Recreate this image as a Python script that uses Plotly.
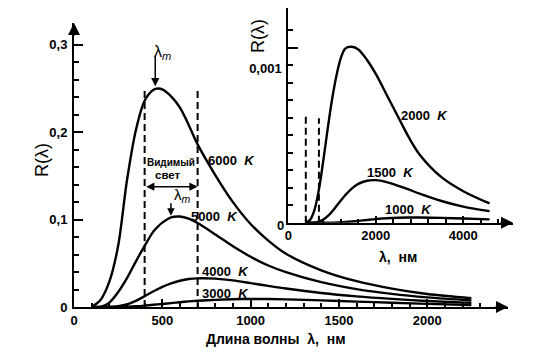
import plotly.graph_objects as go

# ---------------- data ----------------
LAMBDA_MAIN = [100, 150, 200, 250, 300, 350, 400, 450, 475, 500, 550, 600, 650, 700,
               800, 900, 1000, 1100, 1200, 1400, 1600, 1800, 2000, 2250]
R_6000 = [0.0, 0.008, 0.029, 0.070, 0.145, 0.202, 0.236, 0.2485, 0.2500, 0.2490, 0.241, 0.228, 0.208, 0.186,
          0.151, 0.120, 0.095, 0.076, 0.061, 0.042, 0.0295, 0.021, 0.0148, 0.0100]
R_5000 = [0.0, 0.0, 0.005, 0.017, 0.033, 0.052, 0.070, 0.0865, 0.092, 0.0965, 0.1025, 0.1035, 0.1010, 0.0960,
          0.083, 0.0695, 0.0575, 0.0475, 0.040, 0.0285, 0.0205, 0.015, 0.011, 0.0075]
R_4000 = [0.0, 0.0, 0.0, 0.001, 0.003, 0.007, 0.0123, 0.018, 0.0205, 0.023, 0.027, 0.030, 0.032, 0.0328,
          0.0325, 0.0305, 0.0273, 0.0241, 0.0211, 0.0160, 0.0122, 0.0093, 0.0069, 0.0047]
R_3000 = [0.0, 0.0, 0.0, 0.0, 0.0003, 0.0008, 0.0016, 0.0026, 0.0030, 0.0035, 0.0045, 0.0055, 0.0064, 0.0071,
          0.0082, 0.0089, 0.0092, 0.0091, 0.0087, 0.0076, 0.0062, 0.0049, 0.0036, 0.0023]
MAIN_SERIES = [("6000", R_6000), ("5000", R_5000), ("4000", R_4000), ("3000", R_3000)]

LAMBDA_INSET = [400, 500, 600, 700, 800, 900, 1000, 1100, 1200, 1300, 1450, 1600, 1800, 2000,
                2250, 2500, 2750, 3000, 3500, 4000, 4600]
R_2000 = [0.0, 0.000017, 0.000075, 0.00019, 0.000355, 0.000536, 0.000704, 0.00084, 0.00094, 0.000995,
          0.001005, 0.00099, 0.00093, 0.00085, 0.00073, 0.00061, 0.00049, 0.00039, 0.00026, 0.00018, 0.00011]
R_1500 = [0.0, 0.0, 0.0, 0.000006, 0.000018, 0.000037, 0.000064, 0.000095, 0.000127, 0.000157,
          0.000195, 0.000222, 0.00024, 0.000243, 0.000232, 0.000212, 0.00019, 0.000166, 0.000124, 0.000092, 0.000066]
R_1000 = [0.0, 0.0, 0.0, 0.0, 0.0, 0.0, 0.0, 0.000001, 0.000002, 0.0000036,
          0.0000066, 0.0000102, 0.0000154, 0.0000203, 0.000025, 0.000028, 0.0000294, 0.0000296, 0.0000274,
          0.0000237, 0.0000192]
INSET_SERIES = [("2000", R_2000), ("1500", R_1500), ("1000", R_1000)]

VISIBLE_NM = [400, 700]
MAIN_DASH_TOP = [0.2514, 0.2514]
INSET_DASH_TOP = [0.000615, 0.000597]
PEAK_6000 = (460, 0.2525)
PEAK_5000 = (549, 0.1045)

MAIN_X_TICKS = [0, 500, 1000, 1500, 2000]
MAIN_X_MINOR = [v for v in range(100, 2400, 100)]
MAIN_Y_TICKS = [0, 0.1, 0.2, 0.3]
MAIN_Y_TEXT = ["0", "0,1", "0,2", "0,3"]
MAIN_Y_MINOR = [0.02 * k for k in range(1, 15)]
INSET_X_TICKS = [0, 2000, 4000]
INSET_X_MINOR = [400 * k for k in range(1, 13)]
INSET_Y_TICKS = [0.001]
INSET_Y_TEXT = ["0,001"]
INSET_Y_MINOR = [0.0001 * k for k in range(1, 12)]

# ---------------- layout geometry ----------------
# the page body keeps an 8px margin, so the figure is drawn 8px smaller and
# all target pixel positions are measured in window pixels
OFF = 8
FW, FH = 547 - OFF, 357 - OFF


def PX(px):
    return (px - OFF) / FW


def PY(py):
    return 1 - (py - OFF) / FH


MAIN_X_MAX = 2457.5
MAIN_Y_MAX = 0.3249
INSET_X_MAX = 5136
INSET_Y_MAX = 0.001225

FONT = "Liberation Sans, Arial, DejaVu Sans"
curve = dict(color="black", width=2.4, shape="spline", smoothing=0.9)
dash = dict(color="black", width=2, dash="7px,4px")

fig = go.Figure()
for name, r in MAIN_SERIES:
    fig.add_trace(go.Scatter(x=LAMBDA_MAIN, y=r, mode="lines", line=curve, name=name + " K",
                             xaxis="x", yaxis="y", hoverinfo="skip"))
for b, top in zip(VISIBLE_NM, MAIN_DASH_TOP):
    fig.add_trace(go.Scatter(x=[b, b], y=[0, top], mode="lines", line=dash, xaxis="x", yaxis="y",
                             hoverinfo="skip"))
for name, r in INSET_SERIES:
    fig.add_trace(go.Scatter(x=LAMBDA_INSET, y=r, mode="lines", line=curve, name=name + " K",
                             xaxis="x2", yaxis="y2", hoverinfo="skip"))
for b, top in zip(VISIBLE_NM, INSET_DASH_TOP):
    fig.add_trace(go.Scatter(x=[b, b], y=[0, top], mode="lines", line=dash, xaxis="x2", yaxis="y2",
                             hoverinfo="skip"))

TICKFONT = dict(family=FONT, size=13, color="black", weight="bold")


def axis(domain, rng, anchor, tickvals, ticktext, minor_vals, ticklen, minor_len, **kw):
    d = dict(domain=domain, range=rng, anchor=anchor, showline=True, linecolor="black", linewidth=2,
             showgrid=False, zeroline=False, ticks="inside", tickvals=tickvals, ticktext=ticktext,
             ticklen=ticklen, tickwidth=1.5, tickcolor="black", fixedrange=True, automargin=False,
             tickfont=TICKFONT,
             minor=dict(tickvals=minor_vals, ticks="inside", ticklen=minor_len, tickwidth=1.5,
                        tickcolor="black", showgrid=False))
    d.update(kw)
    return d


fig.update_layout(
    width=FW, height=FH, margin=dict(l=0, r=0, t=0, b=0),
    paper_bgcolor="white", plot_bgcolor="rgba(0,0,0,0)", showlegend=False,
    font=dict(family=FONT, size=13, color="black"),
    xaxis=axis([PX(74), PX(508)], [0, MAIN_X_MAX], "y", MAIN_X_TICKS, [str(v) for v in MAIN_X_TICKS],
               MAIN_X_MINOR, 8, 4),
    yaxis=axis([PY(307), PY(23)], [0, MAIN_Y_MAX], "x", MAIN_Y_TICKS, MAIN_Y_TEXT, MAIN_Y_MINOR, 9, 5,
               ticklabelstandoff=2),
    xaxis2=axis([PX(288.3), PX(513)], [0, INSET_X_MAX], "y2", INSET_X_TICKS, [str(v) for v in INSET_X_TICKS],
                INSET_X_MINOR, 7, 4),
    yaxis2=axis([PY(222.7), PY(8.3)], [0, INSET_Y_MAX], "x2", INSET_Y_TICKS, INSET_Y_TEXT, INSET_Y_MINOR,
                10, 5, ticklabelshift=21, ticklabelstandoff=2),
)

ann = []


def txt(x, y, text, xref="x", yref="y", size=13, weight="bold", **kw):
    a = dict(x=x, y=y, xref=xref, yref=yref, text=text, showarrow=False, xanchor="center",
             yanchor="middle", font=dict(family=FONT, size=size, color="black", weight=weight))
    a.update(kw)
    ann.append(a)


def arrow(x, y, ax, ay, xref="x", yref="y", width=2, size=1.2, **kw):
    a = dict(x=x, y=y, xref=xref, yref=yref, ax=ax, ay=ay, text="", showarrow=True,
             arrowhead=2, arrowwidth=width, arrowsize=size, arrowcolor="black", standoff=0)
    a.update(kw)
    ann.append(a)


# axis arrowheads
arrow(0, MAIN_Y_MAX, 0, 14)
arrow(MAIN_X_MAX, 0, -14, 0)
arrow(INSET_X_MAX, 0, -14, 0, xref="x2", yref="y2")

# curve labels
txt(892, 0.168, "6000  <i>K</i>")
txt(793, 0.1033, "5000  <i>K</i>")
txt(858, 0.0404, "4000  <i>K</i>")
txt(858, 0.0157, "3000  <i>K</i>")
txt(3102, 0.000615, "2000  <i>K</i>", xref="x2", yref="y2")
txt(2336, 0.000286, "1500  <i>K</i>", xref="x2", yref="y2")
txt(2736, 0.0000726, "1000  <i>K</i>", xref="x2", yref="y2")

# visible light
txt(548, 0.1648, "Видимый", size=10)
txt(530, 0.151, "свет", size=11.5)
ann.append(dict(x=VISIBLE_NM[1], y=0.1376, ax=VISIBLE_NM[0], ay=0.1376, xref="x", yref="y",
                axref="x", ayref="y", text="", showarrow=True, arrowhead=2, arrowside="end+start",
                arrowwidth=1.5, arrowsize=1.1, arrowcolor="black", standoff=0, startstandoff=0))

# lambda_m markers
arrow(PEAK_6000[0], PEAK_6000[1], 0, -32, width=1.5, size=1.1)
txt(503, 0.291, "λ<sub><i>m</i></sub>", size=16, weight="normal")
arrow(PEAK_5000[0], PEAK_5000[1], 0, -14, width=1.5, size=1.0)
txt(614, 0.127, "λ<sub><i>m</i></sub>", size=15, weight="normal")

# axis titles and odd labels (paper coords)
txt(PX(42), PY(160), "R(λ)", xref="paper", yref="paper", size=18, weight="normal", textangle=-90)
txt(PX(276), PY(339), "Длина волны  λ,  нм", xref="paper", yref="paper", size=14)
txt(PX(258), PY(36), "R(λ)", xref="paper", yref="paper", size=18, weight="normal", textangle=-90)
txt(PX(397.5), PY(257), "λ,  нм", xref="paper", yref="paper", size=14)
txt(PX(281), PY(225), "0", xref="paper", yref="paper", size=13)

fig.update_layout(annotations=ann)
fig.write_html("out.html")
